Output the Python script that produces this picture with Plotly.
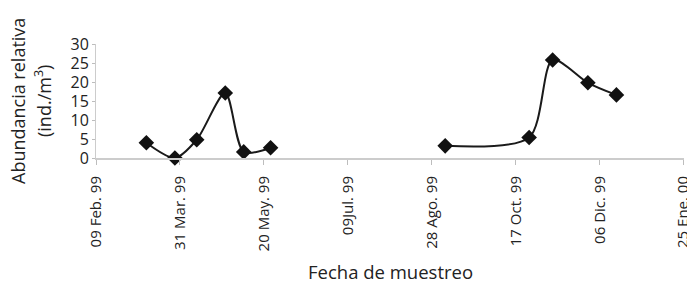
import plotly.graph_objects as go

dates_a = ["1999-03-11", "1999-03-28", "1999-04-10", "1999-04-27", "1999-05-08", "1999-05-24"]
values_a = [4.0, 0.0, 4.8, 17.1, 1.6, 2.7]
dates_b = ["1999-09-05", "1999-10-25", "1999-11-08", "1999-11-29", "1999-12-16"]
values_b = [3.2, 5.4, 25.8, 19.8, 16.6]

tick_dates = ["1999-02-09", "1999-03-31", "1999-05-20", "1999-07-09",
              "1999-08-28", "1999-10-17", "1999-12-06", "2000-01-25"]
tick_labels = ["09 Feb. 99", "31 Mar. 99", "20 May. 99", "09Jul. 99",
               "28 Ago. 99", "17 Oct. 99", "06 Dic. 99", "25 Ene. 00"]
y_ticks = [0, 5, 10, 15, 20, 25, 30]

fig = go.Figure()
for d, v in [(dates_a, values_a), (dates_b, values_b)]:
    fig.add_trace(go.Scatter(
        x=d, y=v, mode="lines+markers",
        line=dict(color="#1a1a1a", width=2, shape="spline", smoothing=0.8),
        marker=dict(symbol="diamond", size=12, color="#111111"),
        showlegend=False, cliponaxis=False,
    ))

font = "Open Sans, DejaVu Sans, sans-serif"
txt = "#222222"
# the page body has an 8px margin, so the figure is sized to fill the rest
fig.update_layout(
    width=687, height=275,
    margin=dict(l=88, r=11, t=36, b=125),
    paper_bgcolor="white", plot_bgcolor="white",
    font=dict(family=font, color=txt),
    xaxis=dict(
        type="date", range=["1999-02-09", "2000-01-25 06:00"],
        tickmode="array", tickvals=tick_dates, ticktext=tick_labels,
        tickangle=-90, tickfont=dict(size=15, color=txt),
        showgrid=False, zeroline=False, automargin=False,
        showline=True, linecolor="#cccccc", linewidth=2,
        ticks="outside", ticklen=5, tickcolor="#bdbdbd", tickwidth=1,
        ticklabelstandoff=5, ticklabeloverflow="allow",
    ),
    yaxis=dict(
        range=[0, 30], tickmode="array", tickvals=y_ticks,
        tickfont=dict(size=16, color=txt),
        showgrid=False, zeroline=False, automargin=False,
        showline=True, linecolor="#cccccc", linewidth=1,
        ticks="outside", ticklen=3, tickcolor="#bdbdbd",
    ),
    annotations=[
        dict(text="Fecha de muestreo", xref="paper", yref="paper",
             x=0.5, y=0, yshift=-113, xanchor="center", yanchor="middle",
             showarrow=False, font=dict(size=18.5, color=txt)),
        dict(text="Abundancia relativa", xref="paper", yref="paper",
             x=0, xshift=-78, y=0.5, xanchor="center", yanchor="middle",
             textangle=-90, showarrow=False, font=dict(size=18, color=txt)),
        dict(text="(ind./m<sup>3</sup>)", xref="paper", yref="paper",
             x=0, xshift=-53, y=0.5, xanchor="center", yanchor="middle",
             textangle=-90, showarrow=False, font=dict(size=18, color=txt)),
    ],
)
fig.write_html("out.html")
